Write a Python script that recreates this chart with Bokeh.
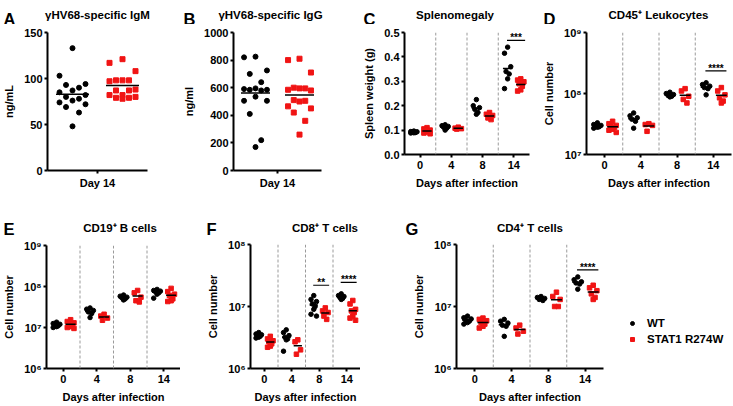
import numpy as np
from bokeh.plotting import figure
from bokeh.layouts import row, column
from bokeh.models import (Range1d, FixedTicker, Span, Label, Legend, LegendItem,
                          CustomJSTickFormatter, NumeralTickFormatter, ColumnDataSource)
from bokeh.embed import file_html
from bokeh.resources import INLINE

# ---------------- data ----------------
days = ["0", "4", "8", "14"]
groups = ["WT", "STAT1 R274W"]

igm_wt = [133, 103, 94, 93, 90, 87, 85, 82, 80, 78, 76, 74, 72, 69, 63, 48]
igm_ko = [121, 117, 108, 98, 98, 97, 98, 88, 87, 87, 82, 82, 80, 79, 79, 78]

igg_wt = [825, 820, 725, 700, 640, 595, 590, 585, 585, 580, 535, 505, 505, 410, 220, 170]
igg_ko = [810, 800, 710, 595, 585, 595, 580, 600, 510, 500, 505, 465, 450, 420, 360, 260]

spleen_wt = [[0.096, 0.094, 0.092, 0.090, 0.089, 0.088, 0.093],
             [0.122, 0.118, 0.115, 0.112, 0.108, 0.100],
             [0.225, 0.200, 0.192, 0.185, 0.172, 0.165],
             [0.440, 0.415, 0.360, 0.340, 0.330, 0.310, 0.270]]
spleen_ko = [[0.110, 0.105, 0.100, 0.098, 0.095, 0.092, 0.088, 0.085],
             [0.112, 0.108, 0.106, 0.104],
             [0.172, 0.165, 0.160, 0.150, 0.143],
             [0.310, 0.305, 0.298, 0.290, 0.280, 0.265, 0.260]]

cd45_wt = [[3.3e7, 3.1e7, 3.0e7, 2.9e7, 2.85e7, 2.8e7, 2.7e7],
           [4.8e7, 4.3e7, 4.0e7, 3.8e7, 3.5e7, 2.7e7],
           [1.05e8, 1.0e8, 9.6e7, 9.3e7, 9.0e7, 8.8e7],
           [1.5e8, 1.4e8, 1.32e8, 1.25e8, 1.2e8, 9.5e7]]
cd45_ko = [[3.5e7, 3.2e7, 3.0e7, 2.9e7, 2.8e7, 2.6e7, 2.5e7, 2.3e7],
           [3.2e7, 3.1e7, 3.0e7, 2.4e7],
           [1.2e8, 1.1e8, 9.0e7, 8.0e7, 7.0e7],
           [1.25e8, 1.1e8, 9.5e7, 8.5e7, 7.5e7, 7.0e7]]

cd19_wt = [[1.35e7, 1.25e7, 1.2e7, 1.15e7, 1.1e7, 1.05e7, 1.0e7],
           [3.0e7, 2.8e7, 2.6e7, 2.4e7, 2.2e7, 1.75e7],
           [6.2e7, 5.8e7, 5.5e7, 5.3e7, 5.0e7, 4.7e7],
           [8.5e7, 8.0e7, 7.7e7, 7.5e7, 7.0e7, 6.5e7, 5.2e7]]
cd19_ko = [[1.55e7, 1.4e7, 1.3e7, 1.2e7, 1.1e7, 1.05e7, 1.0e7, 0.95e7],
           [2.1e7, 1.9e7, 1.7e7, 1.5e7],
           [8.0e7, 7.0e7, 5.5e7, 4.5e7, 4.2e7],
           [9.0e7, 7.5e7, 6.5e7, 6.0e7, 5.0e7, 4.5e7, 4.3e7]]

cd8_wt = [[3.8e6, 3.6e6, 3.5e6, 3.4e6, 3.3e6, 3.2e6, 3.1e6],
          [4.2e6, 3.8e6, 3.4e6, 3.2e6, 3.0e6, 2.9e6, 1.9e6],
          [1.5e7, 1.3e7, 1.2e7, 1.1e7, 1.0e7, 9.0e6, 7.5e6, 7.0e6],
          [1.6e7, 1.5e7, 1.45e7, 1.4e7, 1.35e7, 1.3e7]]
cd8_ko = [[3.3e6, 3.0e6, 2.8e6, 2.7e6, 2.5e6, 2.3e6, 2.2e6],
          [2.9e6, 2.7e6, 2.0e6, 1.7e6],
          [9.5e6, 8.5e6, 8.0e6, 7.0e6, 6.2e6],
          [1.25e7, 1.1e7, 9.0e6, 8.5e6, 8.0e6, 7.0e6, 6.5e6, 6.0e6]]

cd4_wt = [[7.0e6, 6.6e6, 6.3e6, 6.0e6, 5.8e6, 5.5e6, 5.2e6],
          [6.2e6, 5.8e6, 5.4e6, 5.0e6, 4.8e6, 3.3e6],
          [1.45e7, 1.4e7, 1.35e7, 1.3e7, 1.25e7],
          [3.0e7, 2.7e7, 2.5e7, 2.4e7, 2.3e7, 1.9e7]]
cd4_ko = [[6.5e6, 6.2e6, 5.9e6, 5.5e6, 5.2e6, 4.8e6, 4.5e6],
          [5.0e6, 4.5e6, 4.0e6, 3.6e6],
          [1.7e7, 1.45e7, 1.3e7, 1.0e7, 1.0e7],
          [2.2e7, 2.0e7, 1.8e7, 1.6e7, 1.4e7, 1.3e7]]

# significance marks: (day index, stars, bar height)
sig_spleen = [(3, "***", 0.468)]
sig_cd45 = [(3, "****", 2.35e8)]
sig_cd8 = [(2, "**", 2.2e7), (3, "****", 2.45e7)]
sig_cd4 = [(3, "****", 3.9e7)]

titles_top = ["\u03b3HV68-specific IgM", "\u03b3HV68-specific IgG", "Splenomegaly", "CD45\u207a Leukocytes"]
titles_bottom = ["CD19\u207a B cells", "CD8\u207a T cells", "CD4\u207a T cells"]
letters_top = ["A", "B", "C", "D"]
letters_bottom = ["E", "F", "G"]

# ---------------- layout helpers (pixel positions) ----------------
FONT = "Liberation Sans"
RED = "#f01414"
W = 733

SUP = CustomJSTickFormatter(code="""
const s = {'0':'\u2070','1':'\u00b9','2':'\u00b2','3':'\u00b3','4':'\u2074','5':'\u2075','6':'\u2076','7':'\u2077','8':'\u2078','9':'\u2079'};
const e = Math.round(Math.log10(tick));
return '10' + String(e).split('').map(c => s[c]).join('');
""")


def blank(width, height, xr, yr):
    p = figure(width=width, height=height, x_range=Range1d(*xr), y_range=Range1d(*yr),
               title=None, output_backend="svg", toolbar_location=None, frame_align=False,
               x_axis_location=None, y_axis_location=None,
               min_border_left=0, min_border_right=0, min_border_top=0, min_border_bottom=0)
    p.outline_line_color = None
    p.grid.visible = False
    return p


def header(top, bot, items):
    h = bot - top
    p = blank(W, h, (0, W), (h, 0))
    for cx, by, text, size, align in items:
        p.add_layout(Label(x=cx, y=by - top, text=text, text_align=align,
                           text_baseline="alphabetic", text_font=FONT,
                           text_font_style="bold", text_font_size=size, text_color="black"))
    return p


def make_fig(strip, frame, xr, yr, log=False):
    L, R, T, B = strip
    FL, FR, FT, FB = frame
    p = figure(width=R - L, height=B - T, x_range=Range1d(*xr), y_range=Range1d(*yr),
               y_axis_type="log" if log else "linear", title=None, frame_align=False,
               output_backend="svg", toolbar_location=None,
               min_border_left=FL - L, min_border_right=R - FR,
               min_border_top=FT - T, min_border_bottom=B - FB)
    p.outline_line_color = None
    p.grid.visible = False
    for ax in (p.xaxis[0], p.yaxis[0]):
        ax.axis_line_width = 2
        ax.axis_line_color = "black"
        ax.major_tick_line_width = 2
        ax.major_tick_line_color = "black"
        ax.major_tick_out = 3
        ax.major_tick_in = 0
        ax.minor_tick_line_color = None
        ax.major_label_text_font = FONT
        ax.major_label_text_font_style = "bold"
        ax.major_label_text_font_size = "11px"
        ax.major_label_text_color = "black"
        ax.axis_label_text_font = FONT
        ax.axis_label_text_font_style = "bold"
        ax.axis_label_text_font_size = "11px"
        ax.axis_label_text_color = "black"
    p.xaxis[0].major_label_standoff = 3
    p.yaxis[0].major_label_standoff = 2
    p.yaxis[0].axis_label_standoff = 6
    return p


def offsets(vals, spread):
    pattern = [0, -1, 1, -0.5, 0.5]
    order = np.argsort(vals)[::-1]
    off = np.zeros(len(vals))
    for rank, i in enumerate(order):
        off[i] = pattern[rank % len(pattern)] * spread
    return off


def group(p, center, vals, marker, color, spread, size, half):
    vals = np.asarray(vals, dtype=float)
    src = ColumnDataSource(dict(x=center + offsets(vals, spread), y=vals))
    r = p.scatter("x", "y", source=src, marker=marker, size=size, fill_color=color,
                  line_color=color)
    m = vals.mean()
    p.segment(x0=[center - half], x1=[center + half], y0=[m], y1=[m],
              line_color="black", line_width=1.5)
    return r


def day_panel(strip, frame, wt, ko, yr, log, ylabel, yticks, sigs):
    p = make_fig(strip, frame, (-0.5, 3.5), yr, log)
    p.xaxis[0].ticker = FixedTicker(ticks=list(range(len(days))))
    p.xaxis[0].major_label_overrides = {i: d for i, d in enumerate(days)}
    p.xaxis[0].axis_label = "Days after infection"
    p.xaxis[0].axis_label_standoff = 5
    p.yaxis[0].ticker = FixedTicker(ticks=yticks)
    p.yaxis[0].axis_label = ylabel
    if log:
        p.yaxis[0].formatter = SUP
    else:
        p.yaxis[0].formatter = NumeralTickFormatter(format="0.0")
    for k in range(len(days) - 1):
        p.add_layout(Span(location=k + 0.5, dimension="height", line_color="#9a9a9a",
                          line_dash="3 2", line_width=1))
    for k in range(len(days)):
        group(p, k - 0.2, wt[k], "circle", "black", 0.1, 4.5, 0.15)
        group(p, k + 0.22, ko[k], "square", RED, 0.1, 4.5, 0.15)
    for k, stars, yv in sigs:
        p.segment(x0=[k - 0.22], x1=[k + 0.36], y0=[yv], y1=[yv], line_color="black", line_width=1.2)
        p.add_layout(Label(x=k + 0.07, y=yv, text=stars, text_align="center",
                           text_baseline="bottom", y_offset=-3, text_font=FONT,
                           text_font_style="bold", text_font_size="10px", text_color="black"))
    return p


def day14_panel(strip, frame, wt, ko, yr, yticks, ylabel):
    p = make_fig(strip, frame, (-1, 1), yr)
    p.xaxis[0].ticker = FixedTicker(ticks=[0])
    p.xaxis[0].major_label_overrides = {0: "Day 14"}
    p.xaxis[0].major_label_standoff = 3
    p.yaxis[0].ticker = FixedTicker(ticks=yticks)
    p.yaxis[0].axis_label = ylabel
    group(p, -0.5, wt, "circle", "black", 0.26, 5, 0.33)
    group(p, 0.5, ko, "square", RED, 0.26, 5, 0.33)
    return p


# header rows: panel titles and letters
h1 = header(0, 24, [
    (97, 14.5, titles_top[0], "11.5px", "center"),
    (270, 14.5, titles_top[1], "11.5px", "center"),
    (454.5, 14.5, titles_top[2], "11.5px", "center"),
    (658, 14.5, titles_top[3], "11.5px", "center"),
    (3, 18, letters_top[0], "16.5px", "left"),
    (183, 18, letters_top[1], "16.5px", "left"),
    (363, 18, letters_top[2], "16.5px", "left"),
    (543, 18, letters_top[3], "16.5px", "left"),
])
h2 = header(200, 236, [
    (119.5, 227.5, titles_bottom[0], "11.5px", "center"),
    (324.5, 227.5, titles_bottom[1], "11.5px", "center"),
    (529.5, 227.5, titles_bottom[2], "11.5px", "center"),
    (3, 228.5, letters_bottom[0], "16.5px", "left"),
    (206, 228.5, letters_bottom[1], "16.5px", "left"),
    (405, 228.5, letters_bottom[2], "16.5px", "left"),
])

pA = day14_panel((0, 180, 24, 200), (47, 147, 32, 170), igm_wt, igm_ko, (0, 150),
                 [0, 50, 100, 150], "ng/mL")
pB = day14_panel((180, 360, 24, 200), (219, 321, 32, 170), igg_wt, igg_ko, (0, 1000),
                 [0, 200, 400, 600, 800, 1000], "ng/ml")
pC = day_panel((360, 540, 24, 200), (380, 529, 32, 154), spleen_wt, spleen_ko, (0, 0.5), False,
               "Spleen weight (g)", [0, 0.1, 0.2, 0.3, 0.4, 0.5], sig_spleen)
pD = day_panel((540, 733, 24, 200), (585, 731, 32, 154), cd45_wt, cd45_ko, (1e7, 1e9), True,
               "Cell number", [1e7, 1e8, 1e9], sig_cd45)
pE = day_panel((0, 180, 236, 406), (46, 193, 245, 368), cd19_wt, cd19_ko, (1e6, 1e9), True,
               "Cell number", [1e6, 1e7, 1e8, 1e9], [])
pF = day_panel((180, 360, 236, 406), (250, 399, 244, 368), cd8_wt, cd8_ko, (1e6, 1e8), True,
               "Cell number", [1e6, 1e7, 1e8], sig_cd8)
pG = day_panel((360, 615, 236, 406), (456, 603, 244, 368), cd4_wt, cd4_ko, (1e6, 1e8), True,
               "Cell number", [1e6, 1e7, 1e8], sig_cd4)

# legend panel: key renderers without visible points
pL = blank(733 - 615, 406 - 236, (0, 1), (0, 1))
k1 = pL.scatter(x=[np.nan], y=[np.nan], marker="circle", size=5, fill_color="black",
                line_color="black")
k2 = pL.scatter(x=[np.nan], y=[np.nan], marker="square", size=5, fill_color=RED,
                line_color=RED)
legend = Legend(items=[LegendItem(label=groups[0], renderers=[k1]),
                       LegendItem(label=groups[1], renderers=[k2])],
                location=(627 - 615, 406 - 346),
                padding=0, margin=0, spacing=2, glyph_width=10, glyph_height=14,
                label_height=14, label_standoff=10, border_line_color=None,
                background_fill_alpha=0, label_text_font=FONT,
                label_text_font_style="bold", label_text_font_size="11.5px",
                label_text_color="black")
pL.add_layout(legend)

layout = column(h1, row(pA, pB, pC, pD, spacing=0), h2, row(pE, pF, pG, pL, spacing=0), spacing=0)

open("out.html", "w").write(file_html(layout, INLINE))
